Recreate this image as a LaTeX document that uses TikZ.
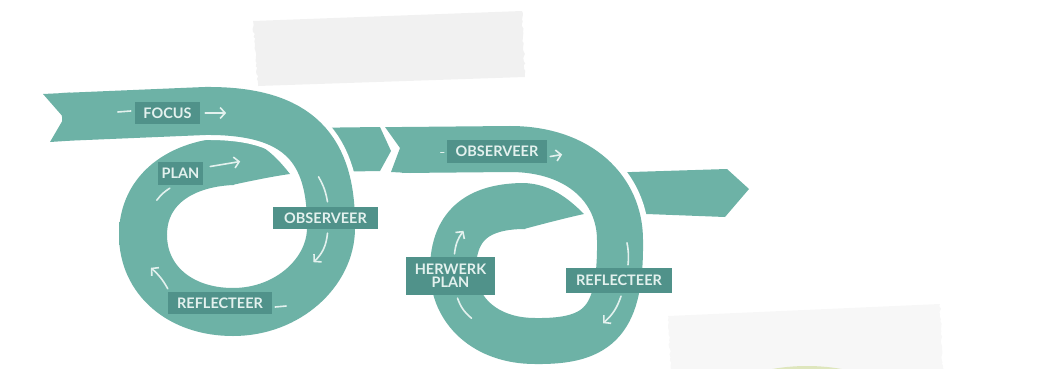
\documentclass[tikz,border=0pt]{standalone}
\usepackage{fontspec}
\setmainfont{Lato}
\usetikzlibrary{arrows.meta,calc,decorations.pathmorphing}

\definecolor{ribbon}{HTML}{6DB2A6}
\definecolor{tagbg}{HTML}{50928A}
\definecolor{tagtext}{HTML}{E3F1EE}
\definecolor{tapegray}{HTML}{F1F1F1}
\definecolor{blob}{HTML}{C2D66F}

\begin{document}
\begin{tikzpicture}[x=1pt,y=-1pt,
    >={Straight Barb[length=5pt,width=11pt]},
    band/.style={draw=ribbon,line width=48pt},
    overband/.style={band,preaction={draw=white,line width=58pt}},
    torn/.style={decoration={random steps,segment length=2.5pt,amplitude=1pt}},
    tag/.style={fill=tagbg,text=tagtext,inner sep=0pt,align=center,
      font=\bfseries\fontsize{14.5}{13}\selectfont},
    note/.style={draw=tagtext,line width=1.6pt,line cap=round}]
  \useasboundingbox (0,0) rectangle (1041,369);
  \clip (0,0) rectangle (1041,369);

  % tape
  \fill[tapegray] (253,21) -- (522,11) decorate[torn]{-- (525,77)} -- (258,86)
    decorate[torn]{-- (253,21)} -- cycle;
  \fill[blob] (807,566) circle (200);
  \fill[tapegray,fill opacity=0.6] (668,316) -- (940,304) decorate[torn]{-- (943,375)}
    -- (671,375) decorate[torn]{-- (668,316)} -- cycle;

  % first loop
  \fill[ribbon] (300,128) -- (380,127) -- (391,151) -- (380,171) -- (320,172) -- cycle;
  \draw[band] (143,235) .. controls (143,190) and (180,163) .. (233,161);
  \fill[ribbon] (232,137) .. controls (258,138) and (275,155) .. (290,174)
    .. controls (275,176) and (255,180) .. (232,185) -- cycle;
  \draw[overband] (62,117) -- (205,111) .. controls (300,110) and (332,150) .. (331,228)
    .. controls (331,272) and (288,312) .. (233,312)
    .. controls (180,312) and (143,280) .. (143,235);
  \draw[band] (143,245) -- (143,222);
  \fill[ribbon] (43,94) -- (70,92.7) -- (70,140.7) -- (50,142) -- (64,118) -- cycle;

  % second loop
  \fill[ribbon] (600,173) -- (727,169) -- (749,189) -- (725,217) -- (620,213) -- cycle;
  \draw[band,line width=46pt] (453,270) .. controls (453,222) and (482,206) .. (525,206);
  \fill[ribbon] (524,183) .. controls (550,184) and (568,198) .. (584,214)
    .. controls (570,217) and (550,222) .. (524,229) -- cycle;
  \draw[overband,line width=46pt,preaction={draw=white,line width=56pt}]
    (402,150) -- (510,149) .. controls (580,149) and (620,190) .. (620,240)
    .. controls (621,320) and (600,342) .. (535,341)
    .. controls (485,341) and (453,310) .. (453,270);
  \draw[band,line width=46pt] (453,280) -- (453,258);
  \fill[ribbon] (385,127) -- (410,127) -- (410,173) -- (391,172) -- (400,148) -- cycle;

  % labels
  \node[tag,minimum width=65pt,minimum height=22pt] (focus) at (167.5,113) {FOCUS};
  \node[tag,minimum width=45pt,minimum height=23pt] (plan) at (180.5,173.5) {PLAN};
  \node[tag,minimum width=105pt,minimum height=22pt] (obs1) at (325.5,218) {OBSERVEER};
  \node[tag,minimum width=104pt,minimum height=22pt] (refl1) at (220,303) {REFLECTEER};
  \node[tag,minimum width=100pt,minimum height=23pt] (obs2) at (497,151.5) {OBSERVEER};
  \node[tag,minimum width=89pt,minimum height=38pt] (herw) at (450.5,276) {HERWERK\\PLAN};
  \node[tag,minimum width=106pt,minimum height=25pt] (refl2) at (619,280.5) {REFLECTEER};

  % little arrows
  \draw[note] ($(focus.west)+(-17,-1)$) -- ($(focus.west)+(-4,-2)$);
  \draw[note,->] ($(focus.east)+(5,0)$) -- ($(focus.east)+(26,0)$);
  \draw[note,->] ($(plan.east)+(7,-7)$) -- ($(plan.east)+(37,-12)$);
  \draw[note] ($(plan.south west)+(-1,15)$) to[bend left=10] ($(plan.south west)+(12,3)$);
  \draw[note] ($(obs1.north)+(-7,-30)$) to[bend left=10] ($(obs1.north)+(2,-5)$);
  \draw[note,->] ($(obs1.south)+(2,4)$) to[bend left=20] ($(obs1.south)+(-12,33)$);
  \draw[note] ($(refl1.east)+(3,4)$) -- ($(refl1.east)+(14,3)$);
  \draw[note,->] ($(refl1.north west)+(0,-3)$) to[bend right=10] ($(refl1.north west)+(-17,-24)$);
  \draw[note] ($(obs2.west)+(-6,1)$) -- ($(obs2.west)+(-3,1)$);
  \draw[note,->] ($(obs2.east)+(3,5)$) -- ($(obs2.east)+(15,3)$);
  \draw[note,->] ($(herw.north)+(4,-3)$) to[bend left=15] ($(herw.north)+(13,-26)$);
  \draw[note] ($(herw.south)+(7,3)$) to[bend right=15] ($(herw.south)+(21,23)$);
  \draw[note] ($(refl2.north)+(8,-25)$) to[bend left=8] ($(refl2.north)+(9,-3)$);
  \draw[note,->] ($(refl2.south)+(2,3)$) to[bend left=15] ($(refl2.south)+(-16,30)$);
\end{tikzpicture}
\end{document}
